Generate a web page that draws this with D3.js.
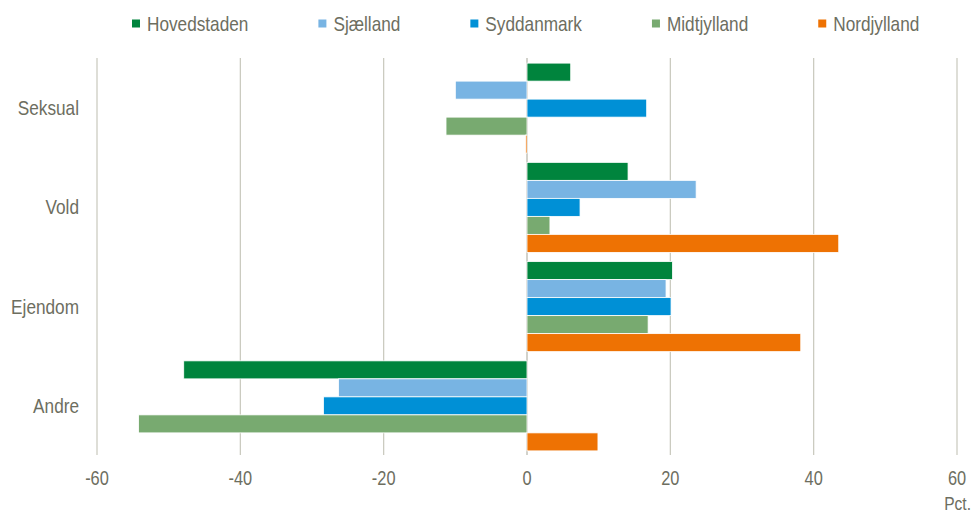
<!DOCTYPE html>
<html>
<head>
<meta charset="utf-8">
<script src="https://cdn.jsdelivr.net/npm/d3@7"></script>
<style>
  html, body { margin: 0; padding: 0; background: #fff; }
  svg text { font-family: "Liberation Sans", Arial, sans-serif; fill: #6d6e5f; }
</style>
</head>
<body>
<div id="chart"></div>
<script>
// data
const categories = ['Seksual', 'Vold', 'Ejendom', 'Andre'];
const regions = ['Hovedstaden', 'Sjælland', 'Syddanmark', 'Midtjylland', 'Nordjylland'];
const hovedstaden = [6.1, 14.1, 20.3, -47.9];
const sjaelland = [-10.0, 23.6, 19.4, -26.3];
const syddanmark = [16.7, 7.4, 20.1, -28.4];
const midtjylland = [-11.3, 3.2, 16.9, -54.2];
const nordjylland = [-0.2, 43.5, 38.2, 9.9];
const xTicks = [-60, -40, -20, 0, 20, 40, 60];
const unitLabel = 'Pct.';

const colors = ['#00843d', '#78b4e3', '#0090d6', '#78aa70', '#ee7203'];
const series = [hovedstaden, sjaelland, syddanmark, midtjylland, nordjylland];

const width = 973, height = 515;
const margin = {top: 58.5, right: 16, bottom: 59.5, left: 97};
const narrow = 0.82; // no narrow face installed, squeeze the regular one

const svg = d3.select('#chart').append('svg')
    .attr('width', width)
    .attr('height', height);

// text helper: places a horizontally condensed label
function label(parent, tx, ty, str, size, anchor) {
    return parent.append('text')
        .attr('transform', 'translate(' + tx + ',' + ty + ') scale(' + narrow + ',1)')
        .attr('text-anchor', anchor || 'start')
        .style('font-size', size + 'px')
        .text(str);
}

const x = d3.scaleLinear()
    .domain([-60, 60])
    .range([margin.left, width - margin.right]);

const y = d3.scaleBand()
    .domain(categories)
    .range([margin.top, height - margin.bottom])
    .paddingInner(0.093)
    .paddingOuter(0.0465);

const ySub = d3.scaleBand()
    .domain(regions)
    .range([0, y.bandwidth()]);

// gridlines
svg.append('g')
    .selectAll('line')
    .data(xTicks)
    .enter()
    .append('line')
    .attr('x1', d => x(d)).attr('x2', d => x(d))
    .attr('y1', 58).attr('y2', 455)
    .attr('stroke', d => d === 0 ? '#b4b4a8' : '#c8c8bc')
    .attr('stroke-width', 1.2);

// bars
const rows = [];
categories.forEach((c, i) => {
    regions.forEach((r, j) => {
        rows.push({cat: c, region: r, value: series[j][i], color: colors[j]});
    });
});

svg.append('g')
    .selectAll('rect')
    .data(rows)
    .enter()
    .append('rect')
    .attr('x', d => x(Math.min(0, d.value)))
    .attr('width', d => Math.abs(x(d.value) - x(0)))
    .attr('y', d => y(d.cat) + ySub(d.region))
    .attr('height', ySub.bandwidth())
    .attr('fill', d => d.color)
    .attr('stroke', '#fff')
    .attr('stroke-width', 0.8);

// x tick labels
const ticksG = svg.append('g');
xTicks.forEach(d => label(ticksG, x(d), 485, d, 20, 'middle'));

label(svg, 971, 510, unitLabel, 19, 'end');

// category labels
const catG = svg.append('g');
categories.forEach(c => {
    label(catG, 79, y(c) + y.bandwidth() / 2 + 7, c, 21, 'end');
});

// legend
const legend = svg.append('g');
let lx = 132;
regions.forEach((r, j) => {
    legend.append('rect')
        .attr('x', lx).attr('y', 19.5)
        .attr('width', 8).attr('height', 8)
        .attr('fill', colors[j]);
    const t = label(legend, lx + 15, 31, r, 21);
    lx += 15 + t.node().getComputedTextLength() * narrow + 70;
});
</script>
</body>
</html>
